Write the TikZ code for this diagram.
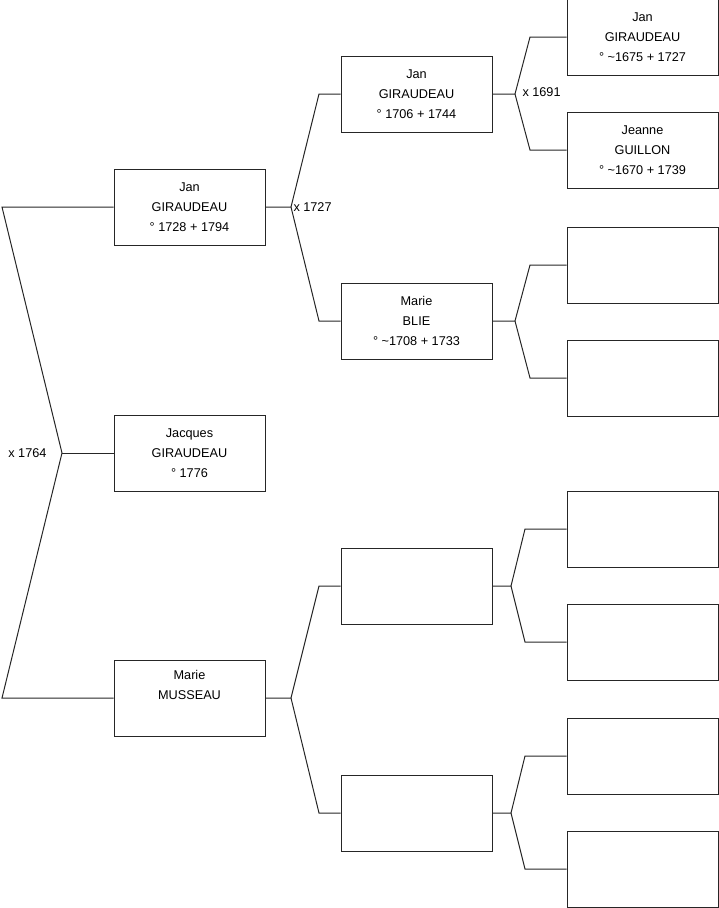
\documentclass[tikz,border=0pt]{standalone}
\usepackage{fontspec}
\setmainfont{Liberation Sans}
\usetikzlibrary{positioning}
\begin{document}
\begin{tikzpicture}[x=1pt,y=-1pt,line width=1pt,draw=black!85,
  person/.style={draw, minimum width=151pt, minimum height=76pt, inner sep=0pt,
    align=center, font=\fontsize{12.7}{20}\selectfont},
  wedding/.style={inner sep=1pt, font=\fontsize{12.7}{14}\selectfont}]
\useasboundingbox (0,0) rectangle (719,908);
% generation 1
\node[person] (jan1) at (189.5,207) {Jan\\GIRAUDEAU\\° 1728 + 1794};
\node[person] (jacques) at (189.5,453) {Jacques\\GIRAUDEAU\\° 1776};
\node[person] (marie1) at (189.5,698) {Marie\\MUSSEAU\\\strut};
% generation 2
\node[person] (jan2) at (416.5,94) {Jan\\GIRAUDEAU\\° 1706 + 1744};
\node[person] (marie2) at (416.5,321) {Marie\\BLIE\\° \textasciitilde1708 + 1733};
\node[person] (empty1) at (416.5,586) {};
\node[person] (empty2) at (416.5,813) {};
% generation 3
\node[person] (jan3) at (642.5,37) {Jan\\GIRAUDEAU\\° \textasciitilde1675 + 1727};
\node[person] (jeanne) at (642.5,150) {Jeanne\\GUILLON\\° \textasciitilde1670 + 1739};
\node[person] (empty3) at (642.5,265) {};
\node[person] (empty4) at (642.5,378) {};
\node[person] (empty5) at (642.5,529) {};
\node[person] (empty6) at (642.5,642) {};
\node[person] (empty7) at (642.5,756) {};
\node[person] (empty8) at (642.5,869) {};
% forks
\coordinate (v0) at (62,453);
\draw (jan1.west) -- (2,207) -- (v0) -- (2,698) -- (marie1.west);
\draw (v0) -- (jacques.west);
\node[wedding, left=14pt of v0] (w0) {x 1764};
\coordinate (v1) at (291,207);
\draw (jan1.east) -- (v1) -- (319,94) -- (jan2.west);
\draw (v1) -- (319,321) -- (marie2.west);
\node[wedding, anchor=west] (w1) at (292,207) {x 1727};
\coordinate (v2) at (291,698);
\draw (marie1.east) -- (v2) -- (319,586) -- (empty1.west);
\draw (v2) -- (319,813) -- (empty2.west);
\coordinate (v3) at (515,94);
\draw (jan2.east) -- (v3) -- (530,37) -- (jan3.west);
\draw (v3) -- (530,150) -- (jeanne.west);
\node[wedding, anchor=west] (w3) at (521,92) {x 1691};
\coordinate (v4) at (515,321);
\draw (marie2.east) -- (v4) -- (530,265) -- (empty3.west);
\draw (v4) -- (530,378) -- (empty4.west);
\coordinate (v5) at (511,586);
\draw (empty1.east) -- (v5) -- (525,529) -- (empty5.west);
\draw (v5) -- (525,642) -- (empty6.west);
\coordinate (v6) at (511,813);
\draw (empty2.east) -- (v6) -- (525,756) -- (empty7.west);
\draw (v6) -- (525,869) -- (empty8.west);
\end{tikzpicture}
\end{document}
